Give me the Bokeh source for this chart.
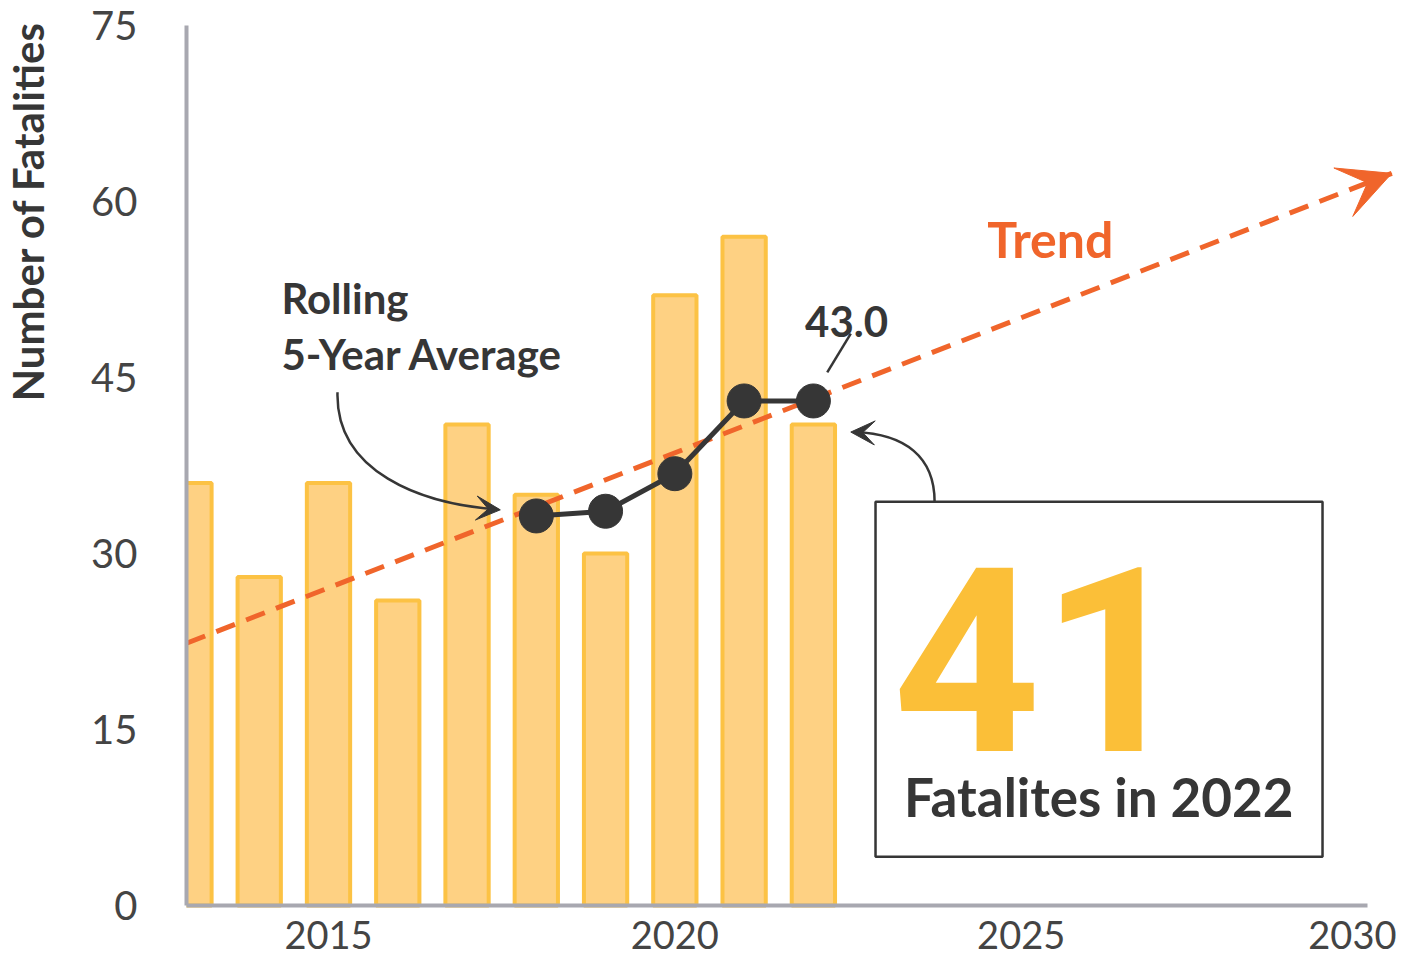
from bokeh.plotting import figure
from bokeh.models import Range1d, FixedTicker, Label, Arrow, VeeHead, BoxAnnotation
from bokeh.embed import file_html
from bokeh.resources import INLINE
import math

# ---- data ----
years = [2013, 2014, 2015, 2016, 2017, 2018, 2019, 2020, 2021, 2022]
fatalities = [36, 28, 36, 26, 41, 35, 30, 52, 57, 41]
avg_years = [2018, 2019, 2020, 2021, 2022]
rolling_avg = [33.2, 33.6, 36.8, 43.0, 43.0]
trend_years = [2012.95, 2030.35]
trend_values = [22.35, 62.4]
x_ticks = [2015, 2020, 2025, 2030]
y_ticks = [0, 15, 30, 45, 60, 75]

# ---- colours / fonts ----
BAR_FILL = "#FED183"
BAR_LINE = "#FCC244"
ORANGE = "#F0652B"
DARK = "#363636"
AXIS = "#A8A8B0"
TICK_TXT = "#444444"
GOLD = "#FBBF38"
FONT = "Lato"

X0, X1 = 2012.95, 2030.0   # drawn extent of the x axis
Y0, Y1 = 0, 75             # drawn extent of the y axis

p = figure(width=1396, height=964, output_backend="svg", toolbar_location=None,
           x_range=Range1d(2010.265, 2030.418), y_range=Range1d(-5.03, 77.13),
           min_border_left=0, min_border_right=0, min_border_top=0, min_border_bottom=0)
p.outline_line_color = None
p.grid.visible = False
p.background_fill_color = "white"
p.border_fill_color = "white"

# axes drawn at fixed locations inside the frame
xa = p.xaxis[0]
xa.fixed_location = Y0
xa.bounds = (X0, X1)
xa.ticker = FixedTicker(ticks=x_ticks)
ya = p.yaxis[0]
ya.fixed_location = X0
ya.bounds = (Y0, Y1)
ya.ticker = FixedTicker(ticks=y_ticks)
for ax in (xa, ya):
    ax.major_tick_line_color = None
    ax.minor_tick_line_color = None
    ax.axis_line_color = AXIS
    ax.axis_line_width = 4
    ax.major_label_text_font = FONT
    ax.major_label_text_color = TICK_TXT
xa.major_label_text_font_size = "38px"
xa.major_label_standoff = 10
ya.major_label_text_font_size = "40px"
ya.major_label_standoff = 43

# bars
p.vbar(x=years, top=fatalities, bottom=0, width=0.625,
       fill_color=BAR_FILL, line_color=BAR_LINE, line_width=4)
# white mask left of the y axis (bars are cut at the axis)
p.quad(left=[2010.265], right=[X0], bottom=[-5.03], top=[77.13],
       fill_color="white", line_color=None)

# trend dashed line (head added as annotation)
p.line(trend_years, trend_values, line_color=ORANGE, line_width=5, line_dash="20 12")
p.add_layout(Arrow(x_start=trend_years[0], y_start=trend_values[0],
                   x_end=trend_years[1], y_end=trend_values[1],
                   line_alpha=0,
                   end=VeeHead(size=52, fill_color=ORANGE, line_color=ORANGE, line_width=1)))

# rolling average
p.line(avg_years, rolling_avg, line_color=DARK, line_width=5)
p.scatter(avg_years, rolling_avg, size=34, fill_color=DARK, line_color=DARK)

# ---- annotations ----
# y-axis title
p.add_layout(Label(x=2010.655, y=59.16, text="Number of Fatalities", angle=math.pi / 2,
                   text_font=FONT, text_font_style="bold", text_font_size="42px",
                   text_color=DARK, text_align="center", text_baseline="alphabetic"))

# Rolling average label + curved arrow
p.add_layout(Label(x=2014.32, y=51.81, text="Rolling", text_font=FONT, text_font_style="bold",
                   text_font_size="42px", text_color=DARK, text_align="left",
                   text_baseline="alphabetic"))
p.add_layout(Label(x=2014.32, y=46.97, text="5-Year Average", text_font=FONT,
                   text_font_style="bold", text_font_size="42px", text_color=DARK,
                   text_align="left", text_baseline="alphabetic"))
p.bezier(x0=[2015.13], y0=[43.74], x1=[2017.44], y1=[33.75],
         cx0=[2015.10], cy0=[36.95], cx1=[2016.33], cy1=[34.23],
         line_color=DARK, line_width=2.5)
p.add_layout(Arrow(x_start=2016.33, y_start=34.23, x_end=2017.48, y_end=33.72, line_alpha=0,
                   end=VeeHead(size=24, fill_color=DARK, line_color=DARK, line_width=1)))

# 43.0 label and leader
p.add_layout(Label(x=2022.48, y=49.77, text="43.0", text_font=FONT, text_font_style="bold",
                   text_font_size="42px", text_color=DARK, text_align="center",
                   text_baseline="alphabetic"))
p.add_layout(Arrow(x_start=2022.54, y_start=48.74, x_end=2022.20, y_end=45.43,
                   line_color=DARK, line_width=2.5, end=None))

# Trend label
p.add_layout(Label(x=2025.42, y=56.82, text="Trend", text_font=FONT, text_font_style="bold",
                   text_font_size="50px", text_color=ORANGE, text_align="center",
                   text_baseline="alphabetic"))

# Callout box
p.add_layout(BoxAnnotation(left=2022.897, right=2029.35, bottom=4.16, top=34.40,
                           fill_color=None, fill_alpha=0, line_color=DARK, line_alpha=1,
                           line_width=2.5))
p.add_layout(Label(x=2025.28, y=21.06, text="41", text_font="Roboto", text_font_style="bold",
                   text_font_size="258px", text_color=GOLD, text_align="center",
                   text_baseline="alphabetic"))
p.add_layout(Label(x=2026.12, y=9.26, text="Fatalites in 2022", text_font=FONT,
                   text_font_style="bold", text_font_size="53px", text_color=DARK,
                   text_align="center", text_baseline="alphabetic"))
p.bezier(x0=[2023.75], y0=[34.40], x1=[2022.60], y1=[40.35],
         cx0=[2023.75], cy0=[38.22], cx1=[2023.33], cy1=[40.18],
         line_color=DARK, line_width=2.5)
p.add_layout(Arrow(x_start=2023.33, y_start=40.18, x_end=2022.54, y_end=40.35, line_alpha=0,
                   end=VeeHead(size=24, fill_color=DARK, line_color=DARK, line_width=1)))

open("out.html", "w").write(file_html(p, INLINE))
